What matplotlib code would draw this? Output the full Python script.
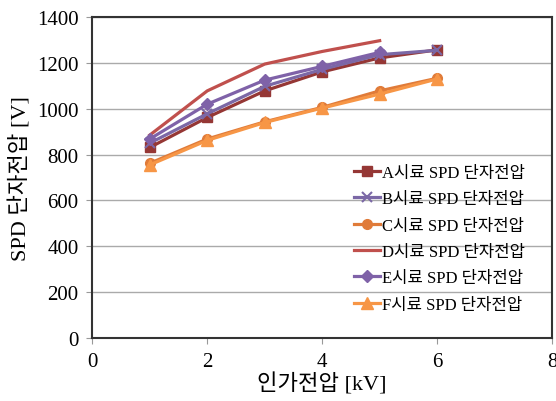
import matplotlib
matplotlib.use("Agg")
import matplotlib.pyplot as plt

plt.rcParams['font.family'] = ['Liberation Serif', 'Noto Sans CJK KR']

# data
x_full = [1, 2, 3, 4, 5, 6]
x_five = [1, 2, 3, 4, 5]
a_vals = [831, 962, 1078, 1161, 1222, 1257]
b_vals = [850, 978, 1098, 1172, 1236, 1255]
c_vals = [762, 868, 943, 1006, 1078, 1133]
d_vals = [885, 1078, 1195, 1250, 1297]
e_vals = [868, 1020, 1125, 1185, 1246]
f_vals = [755, 862, 940, 1003, 1064, 1130]

labels = ["A시료 SPD 단자전압", "B시료 SPD 단자전압", "C시료 SPD 단자전압",
          "D시료 SPD 단자전압", "E시료 SPD 단자전압", "F시료 SPD 단자전압"]
x_ticks = [0, 2, 4, 6, 8]
y_ticks = [0, 200, 400, 600, 800, 1000, 1200, 1400]

fig = plt.figure(figsize=(5.56, 4.02), dpi=100)
ax = fig.add_axes([0.166, 0.157, 0.827, 0.798])

lw = 2.3
ax.plot(x_full, a_vals, color='#953735', lw=lw, marker='s', ms=7, label=labels[0])
ax.plot(x_full, b_vals, color='#7b68a6', lw=lw, marker='x', ms=7, mew=1.5, label=labels[1])
ax.plot(x_full, c_vals, color='#e07b39', lw=lw, marker='o', ms=7, label=labels[2])
ax.plot(x_five, d_vals, color='#c0504d', lw=lw, label=labels[3])
ax.plot(x_five, e_vals, color='#7f62a8', lw=lw, marker='D', ms=6, label=labels[4])
ax.plot(x_full, f_vals, color='#f79646', lw=lw, marker='^', ms=8, label=labels[5])

ax.set_xlim(0, 8)
ax.set_ylim(0, 1400)
ax.set_xticks(x_ticks)
ax.set_yticks(y_ticks)
ax.tick_params(direction='out', length=4, color='#999999', labelsize=15, pad=6)
ax.yaxis.grid(True, color='#aaaaaa', lw=1)
ax.set_axisbelow(True)
for s in ax.spines.values():
    s.set_color('#333333')
    s.set_linewidth(1.5)

ax.set_xlabel("인가전압 [kV]", fontsize=16, labelpad=1)
ax.set_ylabel("SPD 단자전압 [V]", fontsize=16, labelpad=4)

ax.legend(loc='upper left', bbox_to_anchor=(0.55, 0.565), frameon=False,
          fontsize=12, handlelength=1.6, handletextpad=0.1, labelspacing=0.62,
          borderpad=0)

fig.savefig("out.png", dpi=100)
